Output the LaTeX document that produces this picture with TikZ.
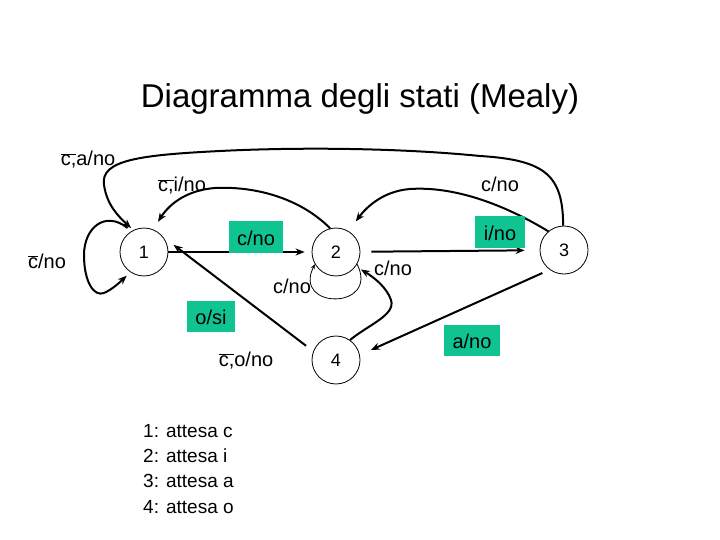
\documentclass[tikz,border=0pt]{standalone}
\usepackage{fontspec}
\setmainfont{Liberation Sans}
\usetikzlibrary{arrows.meta}
\definecolor{boxgreen}{RGB}{16,196,146}
\newcommand{\ovl}[1]{$\overline{\mbox{#1}}$}

\begin{document}
\begin{tikzpicture}[x=1pt,y=-1pt,
	>={Stealth[length=9pt,width=7pt]},
	state/.style={draw,circle,line width=0.8pt,minimum size=48pt,inner sep=0pt,font=\fontsize{18}{20}\selectfont},
	edge/.style={line width=2pt},
	lbl/.style={anchor=base,inner sep=0pt,font=\fontsize{20}{24}\selectfont},
	gbox/.style={fill=boxgreen,inner xsep=8.5pt,inner ysep=4pt,text height=20pt,text depth=3pt,font=\fontsize{20}{24}\selectfont},
	legend/.style={anchor=base west,inner sep=0pt,font=\fontsize{19}{22}\selectfont}]
				\useasboundingbox (0,0) rectangle (720,540);
				% Title
				\node[anchor=base,font=\fontsize{33}{40}\selectfont] (title) at (360,108) {Diagramma degli stati (Mealy)};
				% States
				\node[state] (s1) at (144,252) {1};
				\node[state] (s2) at (336,252) {2};
				\node[state] (s3) at (564,250) {3};
				\node[state] (s4) at (336,360) {4};
				% Straight transitions
				\draw[edge,->,shorten >=7pt] (s1) -- (s2);
				\draw[edge,->,shorten <=11pt,shorten >=15pt] (s2) -- (s3);
				\draw[edge,->,shorten <=8pt,shorten >=12pt] (s3.234) -- (s4.12);
				\draw[edge,->,shorten <=9pt,shorten >=13pt] (s4.159) -- (s1.38);
				% Curved transitions
				\draw[edge,->,shorten >=3pt] (s3.92) .. controls (563,175) and (545,160) .. (480,156)
					.. controls (400,148) and (300,147) .. (220,151)
					.. controls (140,155) and (100,160) .. (104,185)
					.. controls (107,205) and (118,216) .. (s1.116);
				\draw[edge,->,shorten >=9pt] (s2.104) .. controls (300,198) and (255,186) .. (215,188)
					.. controls (188,190) and (170,203) .. (s1.68);
				\draw[edge,->,shorten >=12pt] (s3.130) .. controls (505,205) and (455,186) .. (410,189)
					.. controls (385,191) and (368,205) .. (s2.59);
				\draw[edge,->,shorten >=6pt] (s4.55) .. controls (368,325) and (396,315) .. (391,300)
					.. controls (387,288) and (375,278) .. (s2.-36);
				% Self loops
				\draw[edge,->,shorten <=5pt,shorten >=5pt] (s1.121) .. controls (105,210) and (84,228) .. (84,255)
					.. controls (84,282) and (94,297) .. (104,293)
					.. controls (113,289) and (120,282) .. (s1.236);
				\draw[line width=0.8pt,-{Stealth[length=5pt,width=4pt]}] (s2.-30) .. controls (380,310) and (292,310) .. (s2.-150);
				% Labels
				\node[lbl] (la31) at (88,166) {\ovl{c,}a/no};
				\node[lbl] (la21) at (182,192) {\ovl{c,}i/no};
				\node[lbl] (la32) at (500,192) {c/no};
				\node[lbl] (la42) at (393,275) {c/no};
				\node[lbl] (la22) at (292,293) {c/no};
				\node[lbl] (la11) at (47,268) {\ovl{c}/no};
				\node[lbl] (la44) at (246,366) {\ovl{c,}o/no};
				\node[gbox] (lb12) at (256,237) {c/no};
				\node[gbox] (lb23) at (500,232) {i/no};
				\node[gbox] (lb34) at (472,340) {a/no};
				\node[gbox] (lb41) at (211,316) {o/si};
				% Legend
				\foreach \n/\s in {1/c,2/i,3/a,4/o}
					\node[legend] (leg\n) at (143,412+25.3*\n) {\n: attesa \s};
			\end{tikzpicture}
\end{document}
